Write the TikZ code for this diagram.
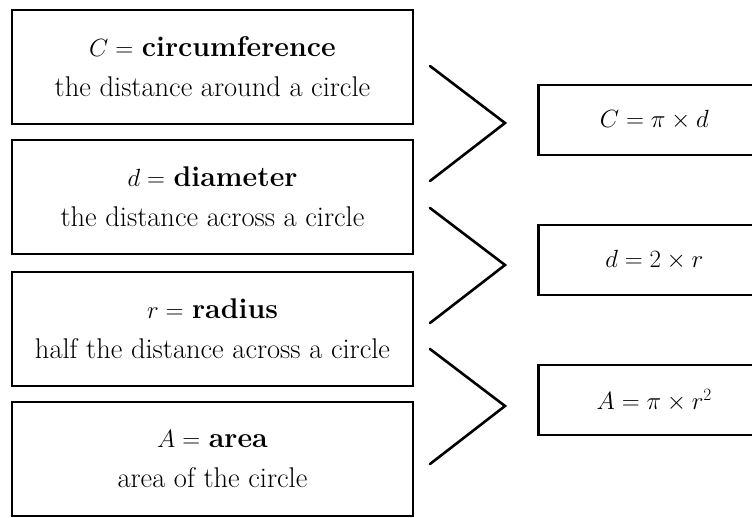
\documentclass[tikz,border=0pt]{standalone}
\usepackage{amsmath,amssymb}
\usetikzlibrary{calc}

\tikzset{
  defbox/.style={draw, line width=2.6pt, minimum width=401pt, minimum height=114pt,
    align=center, inner sep=0pt, font=\fontsize{28.5}{40}\selectfont},
  formbox/.style={draw, line width=2.6pt, minimum width=240pt, minimum height=70pt,
    inner sep=0pt, font=\fontsize{24}{30}\selectfont},
  chevron/.style={line width=2.6pt, line cap=round, line join=miter}
}

\begin{document}
\begin{tikzpicture}[x=1pt, y=-1pt]

\useasboundingbox (0,0) rectangle (752,517);
\clip (0,0) rectangle (752,517);

% Definitions (left column)
\node[defbox] (circ) at (212.5,67)  {$C = $ \textbf{circumference}\\ the distance around a circle};
\node[defbox] (diam) at (212.5,197) {$d = $ \textbf{diameter}\\ the distance across a circle};
\node[defbox] (rad)  at (212.5,329) {$r = $ \textbf{radius}\\ half the distance across a circle};
\node[defbox] (area) at (212.5,459) {$A = $ \textbf{area}\\ area of the circle};

% Formulas (right column)
\node[formbox, anchor=west] (fc) at (537,120) {\hspace*{-8pt}$C = \pi \times d$};
\node[formbox, anchor=west] (fd) at (537,260) {\hspace*{-8pt}$d = 2 \times r$};
\node[formbox, anchor=west] (fa) at (537,400) {\hspace*{-8pt}$A = \pi \times r^2$};

% Chevrons
\coordinate (ch1a) at (430,66);  \coordinate (ch1t) at (505,123); \coordinate (ch1b) at (430,181);
\coordinate (ch2a) at (430,208); \coordinate (ch2t) at (505,265); \coordinate (ch2b) at (430,323);
\coordinate (ch3a) at (430,349); \coordinate (ch3t) at (505,406); \coordinate (ch3b) at (430,464);

\draw[chevron] (ch1a) -- (ch1t) -- (ch1b);
\draw[chevron] (ch2a) -- (ch2t) -- (ch2b);
\draw[chevron] (ch3a) -- (ch3t) -- (ch3b);

\end{tikzpicture}
\end{document}
